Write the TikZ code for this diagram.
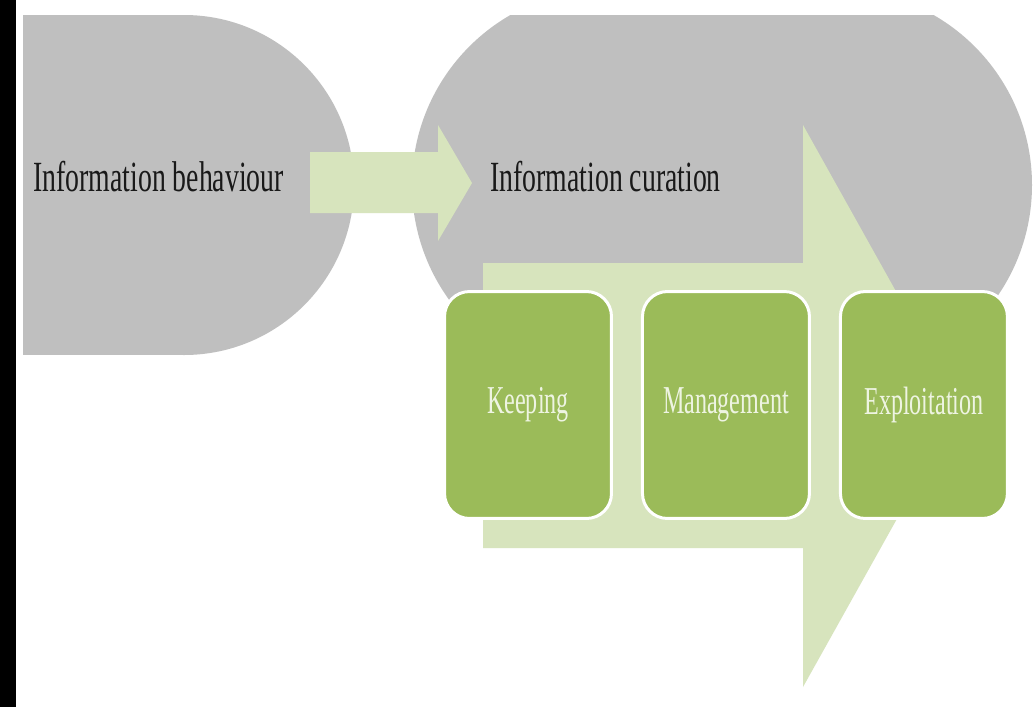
\documentclass[tikz,border=0pt]{standalone}
\usepackage{fontspec}
\newfontfamily\labelfont[FakeStretch=0.61]{Liberation Serif}
\newfontfamily\titlefont[FakeStretch=0.645]{Liberation Serif}
\usepackage{tikz}
\usetikzlibrary{positioning}
\definecolor{curgray}{HTML}{BFBFBF}
\definecolor{palegreen}{HTML}{D7E4BD}
\definecolor{olivegreen}{HTML}{9BBB59}
\definecolor{paletext}{HTML}{EEF4E2}
\tikzstyle{stage} = [rectangle, rounded corners=0.5cm, minimum width=3.34cm, minimum height=4.54cm, text centered, draw=white, line width=0.06cm, fill=olivegreen, text=paletext, inner sep=0pt, font=\labelfont\fontsize{22.5}{27}\selectfont]
\tikzstyle{title} = [anchor=base west, inner sep=0pt, text=black!90, font=\titlefont\fontsize{24.5}{29}\selectfont]
\tikzstyle{blob} = [fill=curgray]
\tikzstyle{flow} = [fill=palegreen]

\begin{document}
\begin{tikzpicture}[x=0.02cm, y=-0.02cm, node distance=0.56cm]
    \useasboundingbox (0,0) rectangle (1035,707);
    \fill[white] (0,0) rectangle (1035,707);
    \fill[black] (0,0) rectangle (16,707);

    % Behaviour blob
    \begin{scope}
        \clip (23,15) rectangle (360,355);
        \fill[blob] (23,15) rectangle (184,355);
        \fill[blob] (184,185) circle (170);
    \end{scope}

    % Curation blob
    \begin{scope}
        \clip (405,15) rectangle (1035,300);
        \fill[blob] (608,15) rectangle (836,300);
        \fill[blob] (608,185) circle (196);
        \fill[blob] (836,185) circle (196);
    \end{scope}

    % Arrows
    \fill[flow] (310,152) -- (438,152) -- (438,125) -- (472,183) -- (438,241) -- (438,213) -- (310,213) -- cycle;
    \fill[flow] (483,263) -- (803,263) -- (803,125) -- (960,406) -- (803,687) -- (803,548) -- (483,548) -- cycle;

    % Titles
    \node (behaviour) [title] at (33,191) {Information behaviour};
    \node (curation) [title] at (490,191) {Information curation};

    % Stages
    \node (keeping) [stage] at (528,405) {Keeping};
    \node (management) [stage, right=of keeping] {Management};
    \node (exploitation) [stage, right=of management] {Exploitation};
\end{tikzpicture}
\end{document}
